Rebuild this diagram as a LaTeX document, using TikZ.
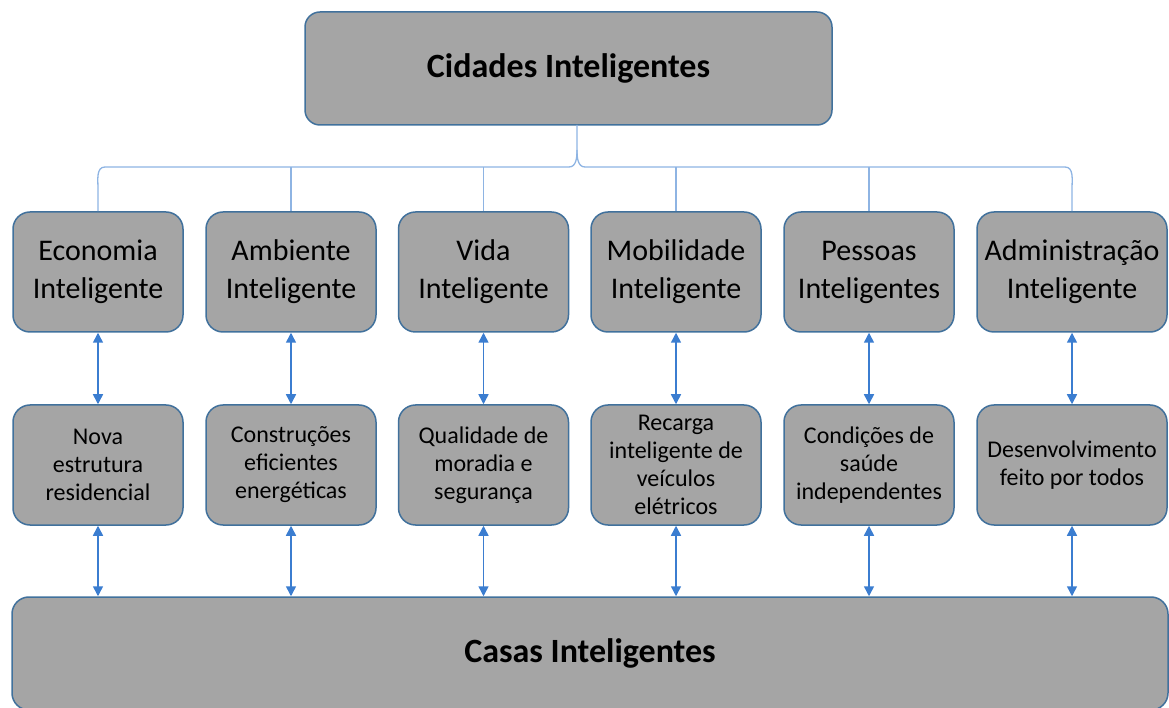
\documentclass[tikz,border=0pt]{standalone}
\usepackage{fontspec}
\setmainfont{Carlito}
\usepackage{xcolor}
\definecolor{boxfill}{HTML}{A5A5A5}
\definecolor{boxedge}{HTML}{41719C}
\definecolor{bracecol}{HTML}{8EB4E3}
\definecolor{linkcol}{HTML}{3B7DD0}
\usepackage{tikz}
\usetikzlibrary{arrows.meta, positioning, calc}

\begin{document}
\begin{tikzpicture}[
  x=1pt, y=1pt,
  box/.style={
    draw=boxedge, fill=boxfill, line width=1.5pt, rounded corners=17pt,
    align=center, inner sep=0pt
  },
  area/.style={box, minimum width=170pt, minimum height=120pt,
    font=\fontsize{30}{38}\selectfont},
  item/.style={box, minimum width=170pt, minimum height=120pt,
    font=\fontsize{24}{28}\selectfont},
  brace/.style={draw=bracecol, line width=1.3pt},
  link/.style={draw=linkcol, line width=1.5pt,
    {Triangle[length=10pt,width=10pt]}-{Triangle[length=10pt,width=10pt]}}
]
  \useasboundingbox (0,0) rectangle (1169,707);

  % top and bottom
  \node[box, rounded corners=15pt, minimum width=527pt, minimum height=113pt,
    font=\fontsize{34}{40}\selectfont\bfseries] (cidades) at (568.5,638.5)
    {Cidades Inteligentes};
  \node[box, minimum width=1156pt, minimum height=113pt,
    font=\fontsize{34}{40}\selectfont\bfseries] (casas) at (590,53.5)
    {Casas Inteligentes};

  % areas
  \foreach \x/\n/\t in {98/econ/{Economia\\Inteligente},
      291/amb/{Ambiente\\Inteligente}, 483.5/vida/{Vida\\Inteligente},
      676/mob/{Mobilidade\\Inteligente}, 869/pess/{Pessoas\\Inteligentes}} {
    \node[area] (\n) at (\x,435) {\t};
  }
  \node[area, minimum width=190pt] (adm) at (1072,435)
    {Administração\\Inteligente};

  % items
  \foreach \x/\n/\t in {98/nova/{Nova\\estrutura\\residencial},
      291/constr/{Construções\\eficientes\\energéticas},
      483.5/qual/{Qualidade de\\moradia e\\segurança},
      676/recarga/{Recarga\\inteligente de\\veículos\\elétricos},
      869/saude/{Condições de\\saúde\\independentes}} {
    \node[item] (\n) at (\x,242) {\t};
  }
  \node[item, minimum width=190pt] (desenv) at (1072,242)
    {Desenvolvimento\\feito por todos};

  % brace
  \coordinate (tip) at (577,582);
  \coordinate (bar) at (0,540);
  \draw[brace] (econ.north) -- ([yshift=-22pt]econ.north |- bar)
    to[out=90,in=180] ([xshift=7pt]econ.north |- bar)
    -- ([xshift=-8pt]tip |- bar)
    to[out=0,in=-90] ([yshift=17pt]tip |- bar) -- (tip);
  \draw[brace] ([yshift=17pt]tip |- bar)
    to[out=-90,in=180] ([xshift=8pt]tip |- bar)
    -- ([xshift=-7pt]adm.north |- bar)
    to[out=0,in=90] ([yshift=-22pt]adm.north |- bar) -- (adm.north);
  \foreach \n in {amb,vida,mob,pess} {
    \draw[brace] (\n.north) -- (\n.north |- bar);
  }

  % links
  \foreach \a/\b in {econ/nova, amb/constr, vida/qual, mob/recarga,
      pess/saude, adm/desenv} {
    \draw[link] (\a.south) -- (\b.north);
    \draw[link] (\b.south) -- (\b.south |- casas.north);
  }
\end{tikzpicture}
\end{document}
